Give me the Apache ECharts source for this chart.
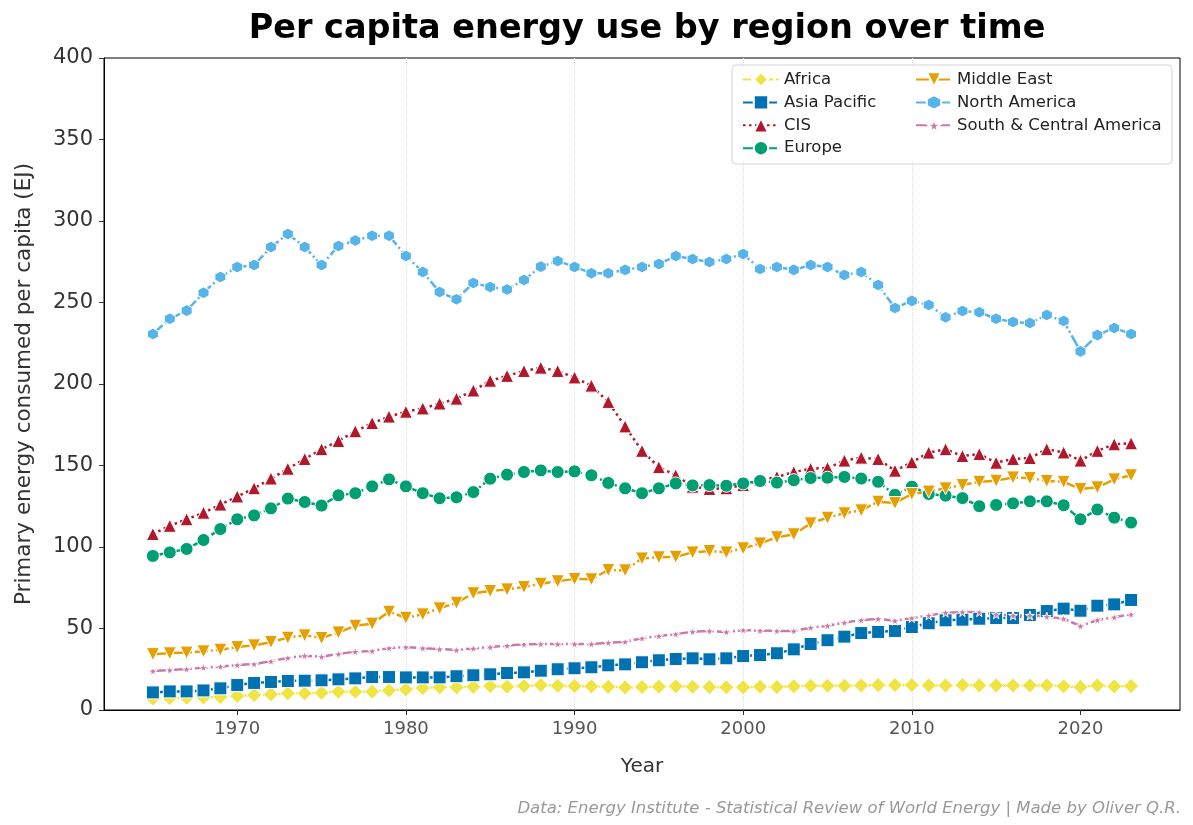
<!DOCTYPE html>
<html>
<head>
<meta charset="utf-8">
<script src="https://cdn.jsdelivr.net/npm/echarts@6/dist/echarts.min.js"></script>
<style>
  html, body { margin: 0; padding: 0; background: #fff; }
  #chart { width: 1193px; height: 825px; }
</style>
</head>
<body>
<div id="chart"></div>
<script>
var years = [];
for (var yr = 1965; yr <= 2023; yr++) years.push(yr);

var xTicks = [1970, 1980, 1990, 2000, 2010, 2020];

// per capita values, 1965..2023
var africa = [7.0, 7.3, 7.5, 7.7, 8.0, 8.6, 9.2, 9.6, 10.2, 10.2,
    10.6, 11.2, 11.2, 11.2, 12.0, 12.7, 13.5, 13.9, 13.9, 14.3,
    14.7, 14.3, 14.7, 15.3, 14.9, 14.7, 14.5, 14.3, 13.9, 14.1,
    14.3, 14.5, 14.3, 14.1, 13.9, 13.9, 14.3, 14.1, 14.5, 14.9,
    14.9, 14.9, 15.1, 15.3, 15.3, 15.3, 15.1, 15.1, 15.3, 15.1,
    15.1, 15.1, 15.1, 15.1, 14.5, 14.1, 15.1, 14.5, 14.7];
var asiaPacific = [10.8, 11.4, 11.4, 12.0, 13.3, 15.3, 16.6, 17.2, 17.8, 18.0,
    18.2, 18.8, 19.4, 20.2, 20.2, 20.0, 20.0, 20.0, 20.7, 21.3,
    21.9, 22.7, 23.1, 24.1, 25.0, 25.6, 26.2, 27.4, 28.0, 29.3,
    30.5, 31.3, 31.7, 31.1, 31.7, 33.1, 33.7, 34.8, 37.2, 40.5,
    42.8, 45.0, 47.2, 47.9, 48.5, 50.9, 53.2, 55.0, 55.4, 56.0,
    56.4, 56.4, 58.3, 60.7, 62.2, 60.9, 64.0, 64.8, 67.5];
var cis = [108, 113, 117, 121, 126, 131, 136, 142, 148, 154,
    160, 165, 171, 176, 180, 183, 185, 188, 191, 196,
    202, 205, 208, 210, 208, 204, 199, 189, 174, 159,
    149, 144, 137, 135.6, 136, 138, 141, 143, 146, 148,
    148.5, 153, 154.8, 154, 146.8, 152, 157.9, 160, 155.8, 157,
    151.7, 154, 154.6, 160, 158, 153, 159, 163, 163.6];
var europe = [94.5, 96.7, 98.8, 104.3, 111, 117, 119.4, 123.7, 129.7, 127.6,
    125.4, 131.7, 133, 137.2, 141.5, 137.2, 133, 129.9, 130.5, 133.7,
    141.9, 144.4, 146, 147, 146, 146.4, 144, 139.3, 136, 133,
    136, 139, 137.8, 138, 137.6, 139, 140.5, 139.5, 141, 142.3,
    142.5, 143, 142, 140, 132, 137, 132.5, 131.5, 130, 125,
    125.8, 126.8, 128, 128, 125.6, 117, 123, 118, 115];
var middleEast = [34.3, 34.8, 35.2, 36, 37, 38.6, 39.7, 41.7, 44.4, 45.8,
    44.2, 47.6, 51.7, 53, 60.3, 56.6, 58.7, 62.4, 65.8, 71.6,
    73, 74, 75.5, 77.5, 79, 80.4, 80.2, 85.9, 85.7, 93,
    93.7, 94, 96.7, 97.5, 96.7, 99.2, 102.2, 106, 107.8, 114.5,
    118, 120.7, 122.5, 127.8, 127, 132.5, 134, 136, 138, 140,
    140.7, 142.7, 142.3, 140.5, 140, 135.6, 136.6, 141.5, 144];
var northAmerica = [230.7, 240, 245, 256, 265.6, 271.8, 273, 284, 292, 284,
    273, 284.7, 288, 291, 291, 278.5, 268.7, 256.4, 252, 262,
    259.5, 258, 263.8, 272, 275.5, 271.8, 268, 268, 270, 271.8,
    273.6, 278.5, 276.7, 274.8, 276.7, 279.8, 270.5, 271.8, 270, 273,
    271.8, 266.9, 268.7, 260.7, 246.6, 251, 248.5, 241, 244.8, 244,
    240, 238, 237.4, 242.3, 238.6, 220, 230, 234.4, 230.7];
var southCentral = [23.9, 24.5, 25.1, 26, 26.6, 27.6, 28.2, 29.9, 32, 33.3,
    32.7, 34.4, 35.8, 36.2, 38, 38.6, 38, 37.4, 36.8, 37.8,
    38.6, 39.5, 40.3, 40.5, 40.5, 40.5, 40.5, 41.3, 41.9, 44,
    45.4, 46.6, 48, 48.5, 47.9, 49, 48.7, 48.5, 48.5, 50.5,
    51.7, 53.6, 55.2, 56, 54.8, 56.4, 58, 59.7, 60.1, 60,
    58.7, 58, 58, 57.3, 56, 51.5, 55.2, 56.9, 58.7];

var FONT = 'DejaVu Sans';
var STAR = 'path://M50,0 L61,35 L98,35 L68,57 L79,91 L50,70 L21,91 L32,57 L2,35 L39,35 Z';
var HEX = 'path://M50,0 L93.3,25 L93.3,75 L50,100 L6.7,75 L6.7,25 Z';
var dashDot = [13, 3, 2, 3];

function pairs(vals) {
    return years.map(function (y, i) { return [y, vals[i]]; });
}

function mkSeries(name, vals, color, symbol, size, dash, rotate) {
    return {
        name: name,
        type: 'line',
        data: pairs(vals),
        symbol: symbol,
        symbolSize: size,
        symbolRotate: rotate || 0,
        showAllSymbol: true,
        lineStyle: {color: color, width: 2.5, type: dash},
        itemStyle: {color: color, borderColor: '#fff', borderWidth: 1},
        emphasis: {disabled: true},
        animation: false
    };
}

var chart = echarts.init(document.getElementById('chart'), null, {renderer: 'canvas'});

var legendCommon = {
    orient: 'vertical',
    top: 66,
    itemWidth: 36, itemHeight: 18, itemGap: 5.9,
    selectedMode: false,
    textStyle: {fontFamily: FONT, fontSize: 16.5, color: '#222'}
};

var option = {
    backgroundColor: '#fff',
    textStyle: {fontFamily: FONT},
    title: [{
        text: 'Per capita energy use by region over time',
        left: 642,
        top: 7,
        textAlign: 'center',
        textStyle: {fontFamily: FONT, fontSize: 33.5, fontWeight: 'bold', color: '#000'}
    }, {
        text: 'Data: Energy Institute - Statistical Review of World Energy | Made by Oliver Q.R.',
        right: 7,
        top: 795,
        textStyle: {fontFamily: FONT, fontSize: 16.5, fontStyle: 'italic', fontWeight: 'normal', color: '#999'}
    }],
    grid: {
        left: 104, right: 13, top: 58, bottom: 115,
        show: true, borderColor: '#000', borderWidth: 1, backgroundColor: 'transparent'
    },
    graphic: [{
        type: 'rect',
        z: 3,
        shape: {x: 732, y: 65, width: 440, height: 99, r: 4},
        style: {fill: 'rgba(255,255,255,0.85)', stroke: '#d4d4d4', lineWidth: 1}
    }],
    legend: [
        Object.assign({}, legendCommon, {data: ['Africa', 'Asia Pacific', 'CIS', 'Europe'], left: 737}),
        Object.assign({}, legendCommon, {data: ['Middle East', 'North America', 'South & Central America'], left: 910})
    ],
    xAxis: {
        type: 'value',
        min: 1962.1,
        max: 2025.9,
        name: 'Year',
        nameLocation: 'middle',
        nameGap: 47,
        nameTextStyle: {fontFamily: FONT, fontSize: 20, color: '#333'},
        axisLine: {show: true, lineStyle: {color: '#000', width: 1}},
        axisTick: {show: true, length: 5, lineStyle: {color: '#333'}, customValues: xTicks},
        axisLabel: {
            fontFamily: FONT, fontSize: 18, color: '#555', margin: 10, customValues: xTicks,
            formatter: function (v) { return String(v); }
        },
        splitLine: {show: true, showMinLine: false, showMaxLine: false,
            lineStyle: {color: '#ddd', type: 'dotted', width: 1}}
    },
    yAxis: {
        type: 'value',
        min: 0,
        max: 400,
        interval: 50,
        name: 'Primary energy consumed per capita (EJ)',
        nameLocation: 'middle',
        nameGap: 69,
        nameTextStyle: {fontFamily: FONT, fontSize: 21.5, color: '#333'},
        axisLine: {show: true, lineStyle: {color: '#000', width: 1}},
        axisTick: {show: true, length: 5, lineStyle: {color: '#333'}},
        axisLabel: {fontFamily: FONT, fontSize: 21, color: '#333', margin: 11},
        splitLine: {show: false}
    },
    series: [
        mkSeries('Africa', africa, '#F0E442', 'diamond', 15, [8, 3]),
        mkSeries('Asia Pacific', asiaPacific, '#0072B2', 'rect', 13, dashDot),
        mkSeries('CIS', cis, '#B2182B', 'triangle', 13, [2.5, 3.5]),
        mkSeries('Europe', europe, '#009E73', 'circle', 13, dashDot),
        mkSeries('Middle East', middleEast, '#E69F00', 'triangle', 13, dashDot, 180),
        mkSeries('North America', northAmerica, '#56B4E9', HEX, [11, 12], dashDot),
        mkSeries('South & Central America', southCentral, '#CC79A7', STAR, 9, dashDot)
    ]
};

chart.setOption(option);
</script>
</body>
</html>
